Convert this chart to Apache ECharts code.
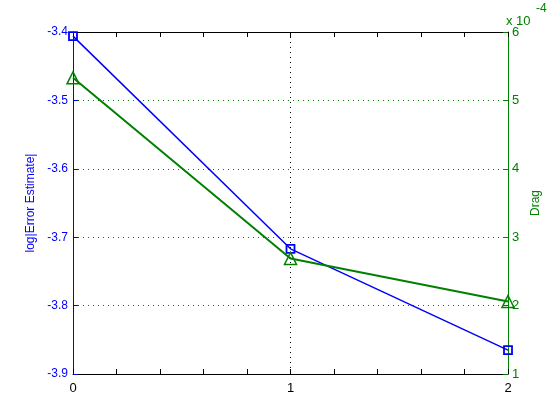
<!DOCTYPE html>
<html><head><meta charset="utf-8">
<script src="https://cdn.jsdelivr.net/npm/echarts@6/dist/echarts.min.js"></script>
<style>html,body{margin:0;padding:0;background:#fff}#c{width:560px;height:420px}</style>
</head><body><div id="c"></div>
<script>
const xValues = [0, 1, 2];
const errorEstimate = [-3.406, -3.717, -3.865];
const dragScaled = [5.33, 2.69, 2.06]; // x 10^-4
const xTicks = ['0', '1', '2'];
const leftTicks = ['-3.9', '-3.8', '-3.7', '-3.6', '-3.5', '-3.4'];
const rightTicks = ['1', '2', '3', '4', '5', '6'];

const FONT = 'Liberation Sans, Arial, Helvetica, sans-serif';
const chart = echarts.init(document.getElementById('c'), null, {renderer: 'canvas'});
chart.setOption({
  animation: false,
  backgroundColor: '#fff',
  grid: {left: 73, right: 52, top: 32, bottom: 46, containLabel: false},
  xAxis: [
    {type: 'value', min: 0, max: 2, interval: 1, position: 'bottom',
     axisLine: {show: true, onZero: false, lineStyle: {color: '#000', width: 1}},
     axisTick: {show: true, inside: true, length: 5, lineStyle: {color: '#000'}},
     minorTick: {show: true, splitNumber: 5, length: 5, lineStyle: {color: '#000'}},
     axisLabel: {color: '#000', fontSize: 13, fontFamily: FONT, margin: 8,
       formatter: v => xTicks[Math.round(v)]},
     splitLine: {show: true, lineStyle: {color: '#000', type: [1, 4], width: 1}}},
    {type: 'value', min: 0, max: 2, interval: 1, position: 'top',
     axisLine: {show: true, onZero: false, lineStyle: {color: '#000', width: 1}},
     axisTick: {show: true, inside: true, length: 5, lineStyle: {color: '#000'}},
     minorTick: {show: true, splitNumber: 5, length: 5, lineStyle: {color: '#000'}},
     axisLabel: {show: false}, splitLine: {show: false}}
  ],
  yAxis: [
    {type: 'value', min: -3.9, max: -3.4, interval: 0.1, position: 'left',
     name: 'log|Error Estimate|', nameLocation: 'middle', nameRotate: 90, nameGap: 34,
     nameTextStyle: {color: '#0000ff', fontSize: 12, fontFamily: FONT},
     axisLine: {show: true, onZero: false, lineStyle: {color: '#0000ff', width: 1}},
     axisTick: {show: true, inside: true, length: 5, lineStyle: {color: '#0000ff'}},
     axisLabel: {color: '#0000ff', fontSize: 12, fontFamily: FONT, margin: 5,
       formatter: v => leftTicks[Math.round((v + 3.9) * 10)]},
     splitLine: {show: false}},
    {type: 'value', min: 1, max: 6, interval: 1, position: 'right',
     name: 'Drag', nameLocation: 'middle', nameRotate: 90, nameGap: 19,
     nameTextStyle: {color: '#008000', fontSize: 12, fontFamily: FONT},
     axisLine: {show: true, onZero: false, lineStyle: {color: '#008000', width: 1}},
     axisTick: {show: true, inside: true, length: 5, lineStyle: {color: '#008000'}},
     axisLabel: {color: '#008000', fontSize: 13, fontFamily: FONT, margin: 4,
       formatter: v => rightTicks[Math.round(v - 1)]},
     splitLine: {show: true, lineStyle: {color: '#008000', type: [1, 4], width: 1}}}
  ],
  graphic: [
    {type: 'text', left: 506, top: 15, style: {text: 'x 10', fill: '#008000', fontSize: 13, fontFamily: FONT}},
    {type: 'text', left: 536, top: 3, style: {text: '-4', fill: '#008000', fontSize: 12, fontFamily: FONT}}
  ],
  series: [
    {type: 'line', xAxisIndex: 0, yAxisIndex: 0,
     data: xValues.map((x, i) => [x, errorEstimate[i]]),
     symbol: 'rect', symbolSize: 8, showAllSymbol: true,
     lineStyle: {color: '#0000ff', width: 1.5},
     itemStyle: {color: 'rgba(0,0,0,0)', borderColor: '#0000ff', borderWidth: 1.8}},
    {type: 'line', xAxisIndex: 0, yAxisIndex: 1,
     data: xValues.map((x, i) => [x, dragScaled[i]]),
     symbol: 'triangle', symbolSize: 12, showAllSymbol: true,
     lineStyle: {color: '#008000', width: 2},
     itemStyle: {color: 'rgba(0,0,0,0)', borderColor: '#008000', borderWidth: 1.5}}
  ]
});
</script></body></html>
